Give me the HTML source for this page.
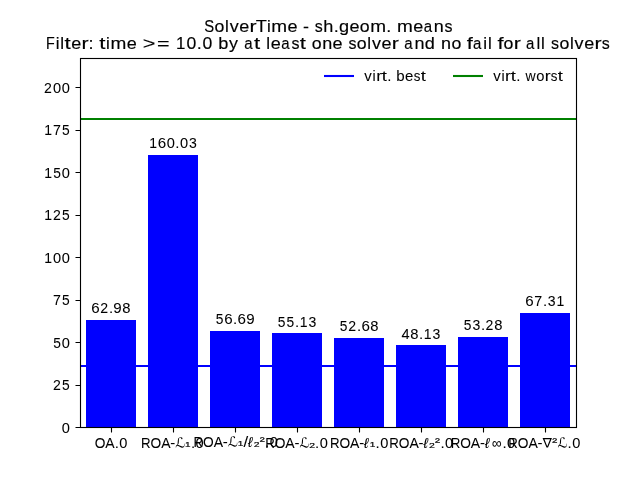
<!DOCTYPE html>
<html><head><meta charset="utf-8"><title>SolverTime - sh.geom. means</title>
<style>
html,body{margin:0;padding:0;background:#fff;}
svg{display:block;font-family:"Liberation Sans",sans-serif;will-change:transform;}
text{fill:#000;font-kerning:none;white-space:pre;}
</style></head>
<body>
<svg width="640" height="480" viewBox="0 0 640 480">
<rect width="640" height="480" fill="#fff"/>
<rect x="86" y="320" width="50" height="108" fill="#0000ff"/>
<rect x="148" y="155" width="50" height="273" fill="#0000ff"/>
<rect x="210" y="331" width="50" height="97" fill="#0000ff"/>
<rect x="272" y="333" width="50" height="95" fill="#0000ff"/>
<rect x="334" y="338" width="50" height="90" fill="#0000ff"/>
<rect x="396" y="345" width="50" height="83" fill="#0000ff"/>
<rect x="458" y="337" width="50" height="91" fill="#0000ff"/>
<rect x="520" y="313" width="50" height="115" fill="#0000ff"/>
<line x1="80" x2="577" y1="366" y2="366" stroke="#0000ff" stroke-width="2.08"/>
<line x1="80" x2="577" y1="119" y2="119" stroke="#008000" stroke-width="2.08"/>
<rect x="80.5" y="58.5" width="496" height="369" fill="none" stroke="#000" stroke-width="1.11"/>
<path d="M80.5 427.5h-5 M80.5 385.5h-5 M80.5 342.5h-5 M80.5 300.5h-5 M80.5 257.5h-5 M80.5 215.5h-5 M80.5 172.5h-5 M80.5 130.5h-5 M80.5 87.5h-5 M111.5 427.5v5 M173.5 427.5v5 M235.5 427.5v5 M297.5 427.5v5 M359.5 427.5v5 M421.5 427.5v5 M483.5 427.5v5 M545.5 427.5v5" stroke="#000" stroke-width="1.11" fill="none"/>
<line x1="325.04" x2="352.96" y1="76" y2="76" stroke="#0000ff" stroke-width="2.08" stroke-linecap="square"/>
<line x1="454.04" x2="481.96" y1="76" y2="76" stroke="#008000" stroke-width="2.08" stroke-linecap="square"/>
<g>
<text font-size="14.5" stroke="#000" stroke-width="0.05"><tspan x="61.79" y="433.00" textLength="8.14" lengthAdjust="spacingAndGlyphs">0</tspan></text>
<text font-size="14.5" stroke="#000" stroke-width="0.05"><tspan x="52.91" y="390.00" textLength="7.85" lengthAdjust="spacingAndGlyphs">2</tspan><tspan x="61.96" y="390.00" textLength="7.68" lengthAdjust="spacingAndGlyphs">5</tspan></text>
<text font-size="14.5" stroke="#000" stroke-width="0.05"><tspan x="53.13" y="348.00" textLength="7.68" lengthAdjust="spacingAndGlyphs">5</tspan><tspan x="61.79" y="348.00" textLength="8.14" lengthAdjust="spacingAndGlyphs">0</tspan></text>
<text font-size="14.5" stroke="#000" stroke-width="0.05"><tspan x="53.01" y="305.00" textLength="7.96" lengthAdjust="spacingAndGlyphs">7</tspan><tspan x="61.96" y="305.00" textLength="7.68" lengthAdjust="spacingAndGlyphs">5</tspan></text>
<text font-size="14.5" stroke="#000" stroke-width="0.05"><tspan x="44.23" y="263.00" textLength="7.78" lengthAdjust="spacingAndGlyphs">1</tspan><tspan x="52.95" y="263.00" textLength="8.14" lengthAdjust="spacingAndGlyphs">0</tspan><tspan x="61.79" y="263.00" textLength="8.14" lengthAdjust="spacingAndGlyphs">0</tspan></text>
<text font-size="14.5" stroke="#000" stroke-width="0.05"><tspan x="44.23" y="220.00" textLength="7.78" lengthAdjust="spacingAndGlyphs">1</tspan><tspan x="52.91" y="220.00" textLength="7.85" lengthAdjust="spacingAndGlyphs">2</tspan><tspan x="61.96" y="220.00" textLength="7.68" lengthAdjust="spacingAndGlyphs">5</tspan></text>
<text font-size="14.5" stroke="#000" stroke-width="0.05"><tspan x="44.23" y="178.00" textLength="7.78" lengthAdjust="spacingAndGlyphs">1</tspan><tspan x="53.13" y="178.00" textLength="7.68" lengthAdjust="spacingAndGlyphs">5</tspan><tspan x="61.79" y="178.00" textLength="8.14" lengthAdjust="spacingAndGlyphs">0</tspan></text>
<text font-size="14.5" stroke="#000" stroke-width="0.05"><tspan x="44.23" y="135.00" textLength="7.78" lengthAdjust="spacingAndGlyphs">1</tspan><tspan x="53.01" y="135.00" textLength="7.96" lengthAdjust="spacingAndGlyphs">7</tspan><tspan x="61.96" y="135.00" textLength="7.68" lengthAdjust="spacingAndGlyphs">5</tspan></text>
<text font-size="14.5" stroke="#000" stroke-width="0.05"><tspan x="44.08" y="93.00" textLength="7.85" lengthAdjust="spacingAndGlyphs">2</tspan><tspan x="52.95" y="93.00" textLength="8.14" lengthAdjust="spacingAndGlyphs">0</tspan><tspan x="61.79" y="93.00" textLength="8.14" lengthAdjust="spacingAndGlyphs">0</tspan></text>
<text font-size="14.5" stroke="#000" stroke-width="0.05"><tspan x="91.32" y="313.00" textLength="8.43" lengthAdjust="spacingAndGlyphs">6</tspan><tspan x="100.26" y="313.00" textLength="7.85" lengthAdjust="spacingAndGlyphs">2</tspan><tspan x="108.91" y="313.00" textLength="4.18" lengthAdjust="spacingAndGlyphs">.</tspan><tspan x="113.37" y="313.00" textLength="8.41" lengthAdjust="spacingAndGlyphs">9</tspan><tspan x="122.34" y="313.00" textLength="8.23" lengthAdjust="spacingAndGlyphs">8</tspan></text>
<text font-size="14.5" stroke="#000" stroke-width="0.05"><tspan x="149.16" y="148.00" textLength="7.78" lengthAdjust="spacingAndGlyphs">1</tspan><tspan x="157.74" y="148.00" textLength="8.43" lengthAdjust="spacingAndGlyphs">6</tspan><tspan x="166.72" y="148.00" textLength="8.14" lengthAdjust="spacingAndGlyphs">0</tspan><tspan x="175.32" y="148.00" textLength="4.18" lengthAdjust="spacingAndGlyphs">.</tspan><tspan x="179.97" y="148.00" textLength="8.14" lengthAdjust="spacingAndGlyphs">0</tspan><tspan x="188.98" y="148.00" textLength="7.82" lengthAdjust="spacingAndGlyphs">3</tspan></text>
<text font-size="14.5" stroke="#000" stroke-width="0.05"><tspan x="215.64" y="324.00" textLength="7.68" lengthAdjust="spacingAndGlyphs">5</tspan><tspan x="224.16" y="324.00" textLength="8.43" lengthAdjust="spacingAndGlyphs">6</tspan><tspan x="232.91" y="324.00" textLength="4.18" lengthAdjust="spacingAndGlyphs">.</tspan><tspan x="237.41" y="324.00" textLength="8.43" lengthAdjust="spacingAndGlyphs">6</tspan><tspan x="246.21" y="324.00" textLength="8.41" lengthAdjust="spacingAndGlyphs">9</tspan></text>
<text font-size="14.5" stroke="#000" stroke-width="0.05"><tspan x="277.64" y="327.00" textLength="7.68" lengthAdjust="spacingAndGlyphs">5</tspan><tspan x="286.47" y="327.00" textLength="7.68" lengthAdjust="spacingAndGlyphs">5</tspan><tspan x="294.91" y="327.00" textLength="4.18" lengthAdjust="spacingAndGlyphs">.</tspan><tspan x="299.67" y="327.00" textLength="7.78" lengthAdjust="spacingAndGlyphs">1</tspan><tspan x="308.57" y="327.00" textLength="7.82" lengthAdjust="spacingAndGlyphs">3</tspan></text>
<text font-size="14.5" stroke="#000" stroke-width="0.05"><tspan x="339.64" y="331.00" textLength="7.68" lengthAdjust="spacingAndGlyphs">5</tspan><tspan x="348.26" y="331.00" textLength="7.85" lengthAdjust="spacingAndGlyphs">2</tspan><tspan x="356.91" y="331.00" textLength="4.18" lengthAdjust="spacingAndGlyphs">.</tspan><tspan x="361.41" y="331.00" textLength="8.43" lengthAdjust="spacingAndGlyphs">6</tspan><tspan x="370.34" y="331.00" textLength="8.23" lengthAdjust="spacingAndGlyphs">8</tspan></text>
<text font-size="14.5" stroke="#000" stroke-width="0.05"><tspan x="401.46" y="339.00" textLength="8.14" lengthAdjust="spacingAndGlyphs">4</tspan><tspan x="410.26" y="339.00" textLength="8.23" lengthAdjust="spacingAndGlyphs">8</tspan><tspan x="418.91" y="339.00" textLength="4.18" lengthAdjust="spacingAndGlyphs">.</tspan><tspan x="423.67" y="339.00" textLength="7.78" lengthAdjust="spacingAndGlyphs">1</tspan><tspan x="432.57" y="339.00" textLength="7.82" lengthAdjust="spacingAndGlyphs">3</tspan></text>
<text font-size="14.5" stroke="#000" stroke-width="0.05"><tspan x="463.64" y="330.00" textLength="7.68" lengthAdjust="spacingAndGlyphs">5</tspan><tspan x="472.48" y="330.00" textLength="7.82" lengthAdjust="spacingAndGlyphs">3</tspan><tspan x="480.91" y="330.00" textLength="4.18" lengthAdjust="spacingAndGlyphs">.</tspan><tspan x="485.51" y="330.00" textLength="7.85" lengthAdjust="spacingAndGlyphs">2</tspan><tspan x="494.34" y="330.00" textLength="8.23" lengthAdjust="spacingAndGlyphs">8</tspan></text>
<text font-size="14.5" stroke="#000" stroke-width="0.05"><tspan x="525.32" y="306.00" textLength="8.43" lengthAdjust="spacingAndGlyphs">6</tspan><tspan x="534.36" y="306.00" textLength="7.96" lengthAdjust="spacingAndGlyphs">7</tspan><tspan x="542.91" y="306.00" textLength="4.18" lengthAdjust="spacingAndGlyphs">.</tspan><tspan x="547.73" y="306.00" textLength="7.82" lengthAdjust="spacingAndGlyphs">3</tspan><tspan x="556.50" y="306.00" textLength="7.78" lengthAdjust="spacingAndGlyphs">1</tspan></text>
<text font-size="14.5" stroke="#000" stroke-width="0.05"><tspan x="94.73" y="447.50" textLength="10.68" lengthAdjust="spacingAndGlyphs">O</tspan><tspan x="105.37" y="447.50" textLength="9.33" lengthAdjust="spacingAndGlyphs">A</tspan><tspan x="114.66" y="447.50" textLength="4.18" lengthAdjust="spacingAndGlyphs">.</tspan><tspan x="119.31" y="447.50" textLength="8.14" lengthAdjust="spacingAndGlyphs">0</tspan></text>
<text font-size="14.5" stroke="#000" stroke-width="0.05"><tspan x="140.99" y="447.50" textLength="9.59" lengthAdjust="spacingAndGlyphs">R</tspan><tspan x="150.50" y="447.50" textLength="10.68" lengthAdjust="spacingAndGlyphs">O</tspan><tspan x="161.14" y="447.50" textLength="9.33" lengthAdjust="spacingAndGlyphs">A</tspan><tspan x="170.26" y="447.50" textLength="4.99" lengthAdjust="spacingAndGlyphs">-</tspan><tspan font-size="11.85" stroke-width="0.22" x="185.36" y="446.49" textLength="5.18" lengthAdjust="spacingAndGlyphs">₁</tspan><tspan x="190.95" y="447.50" textLength="4.18" lengthAdjust="spacingAndGlyphs">.</tspan><tspan x="195.59" y="447.50" textLength="8.14" lengthAdjust="spacingAndGlyphs">0</tspan></text><path transform="translate(175.26 447.50) scale(0.00678 -0.00678)" d="M475 351 733 241Q843 193 933 169Q1016 144 1076 144Q1179 144 1265 230Q1331 296 1331 450Q1331 532 1322 562L1366 576Q1390 444 1390 430Q1390 202 1280 92Q1159 -29 1038 -29Q986 -29 884 6Q796 37 653 109Q392 246 310 246V254Q242 254 187 188Q134 125 121 -7L68 17Q68 210 141 298Q167 331 216 367Q253 391 301 448Q356 514 367 897Q372 1066 407 1198Q440 1326 504 1403Q603 1522 812 1522Q926 1522 997 1460Q1063 1405 1063 1297Q1063 1271 1049 1255Q1008 1209 977 1209Q933 1209 904 1236Q891 1247 880 1306Q873 1361 832 1398Q781 1442 724 1442Q649 1442 603 1383Q568 1343 550.0 1237.5Q532 1132 528 965Q524 776 504 659Q482 538 444 494Q389 426 323 378L326 375H341Q403 375 475 351Z"/>
<text font-size="14.5" stroke="#000" stroke-width="0.05"><tspan x="193.61" y="446.50" textLength="9.59" lengthAdjust="spacingAndGlyphs">R</tspan><tspan x="203.12" y="446.50" textLength="10.68" lengthAdjust="spacingAndGlyphs">O</tspan><tspan x="213.76" y="446.50" textLength="9.33" lengthAdjust="spacingAndGlyphs">A</tspan><tspan x="222.89" y="446.50" textLength="4.99" lengthAdjust="spacingAndGlyphs">-</tspan><tspan font-size="11.85" stroke-width="0.22" x="237.99" y="445.49" textLength="5.18" lengthAdjust="spacingAndGlyphs">₁</tspan><tspan x="243.46" y="446.50" textLength="4.68" lengthAdjust="spacingAndGlyphs">/</tspan><tspan font-style="italic" stroke-width="0.12" x="248.03" y="446.50" textLength="4.50" lengthAdjust="spacingAndGlyphs">ℓ</tspan><tspan font-size="11.19" stroke-width="0.22" x="253.50" y="445.54" textLength="6.32" lengthAdjust="spacingAndGlyphs">₂</tspan><tspan font-size="11.22" stroke-width="0.22" x="259.73" y="444.78" textLength="4.98" lengthAdjust="spacingAndGlyphs">²</tspan><tspan x="265.12" y="446.50" textLength="4.18" lengthAdjust="spacingAndGlyphs">.</tspan><tspan x="269.77" y="446.50" textLength="8.14" lengthAdjust="spacingAndGlyphs">0</tspan></text><path transform="translate(227.89 446.50) scale(0.00678 -0.00678)" d="M475 351 733 241Q843 193 933 169Q1016 144 1076 144Q1179 144 1265 230Q1331 296 1331 450Q1331 532 1322 562L1366 576Q1390 444 1390 430Q1390 202 1280 92Q1159 -29 1038 -29Q986 -29 884 6Q796 37 653 109Q392 246 310 246V254Q242 254 187 188Q134 125 121 -7L68 17Q68 210 141 298Q167 331 216 367Q253 391 301 448Q356 514 367 897Q372 1066 407 1198Q440 1326 504 1403Q603 1522 812 1522Q926 1522 997 1460Q1063 1405 1063 1297Q1063 1271 1049 1255Q1008 1209 977 1209Q933 1209 904 1236Q891 1247 880 1306Q873 1361 832 1398Q781 1442 724 1442Q649 1442 603 1383Q568 1343 550.0 1237.5Q532 1132 528 965Q524 776 504 659Q482 538 444 494Q389 426 323 378L326 375H341Q403 375 475 351Z"/>
<text font-size="14.5" stroke="#000" stroke-width="0.05"><tspan x="265.14" y="447.50" textLength="9.59" lengthAdjust="spacingAndGlyphs">R</tspan><tspan x="274.65" y="447.50" textLength="10.68" lengthAdjust="spacingAndGlyphs">O</tspan><tspan x="285.29" y="447.50" textLength="9.33" lengthAdjust="spacingAndGlyphs">A</tspan><tspan x="294.41" y="447.50" textLength="4.99" lengthAdjust="spacingAndGlyphs">-</tspan><tspan font-size="11.19" stroke-width="0.22" x="309.04" y="446.54" textLength="6.32" lengthAdjust="spacingAndGlyphs">₂</tspan><tspan x="315.10" y="447.50" textLength="4.18" lengthAdjust="spacingAndGlyphs">.</tspan><tspan x="319.74" y="447.50" textLength="8.14" lengthAdjust="spacingAndGlyphs">0</tspan></text><path transform="translate(299.41 447.50) scale(0.00678 -0.00678)" d="M475 351 733 241Q843 193 933 169Q1016 144 1076 144Q1179 144 1265 230Q1331 296 1331 450Q1331 532 1322 562L1366 576Q1390 444 1390 430Q1390 202 1280 92Q1159 -29 1038 -29Q986 -29 884 6Q796 37 653 109Q392 246 310 246V254Q242 254 187 188Q134 125 121 -7L68 17Q68 210 141 298Q167 331 216 367Q253 391 301 448Q356 514 367 897Q372 1066 407 1198Q440 1326 504 1403Q603 1522 812 1522Q926 1522 997 1460Q1063 1405 1063 1297Q1063 1271 1049 1255Q1008 1209 977 1209Q933 1209 904 1236Q891 1247 880 1306Q873 1361 832 1398Q781 1442 724 1442Q649 1442 603 1383Q568 1343 550.0 1237.5Q532 1132 528 965Q524 776 504 659Q482 538 444 494Q389 426 323 378L326 375H341Q403 375 475 351Z"/>
<text font-size="14.5" stroke="#000" stroke-width="0.05"><tspan x="329.92" y="447.50" textLength="9.59" lengthAdjust="spacingAndGlyphs">R</tspan><tspan x="339.43" y="447.50" textLength="10.68" lengthAdjust="spacingAndGlyphs">O</tspan><tspan x="350.07" y="447.50" textLength="9.33" lengthAdjust="spacingAndGlyphs">A</tspan><tspan x="359.20" y="447.50" textLength="4.99" lengthAdjust="spacingAndGlyphs">-</tspan><tspan font-style="italic" stroke-width="0.12" x="364.09" y="447.50" textLength="4.50" lengthAdjust="spacingAndGlyphs">ℓ</tspan><tspan font-size="11.85" stroke-width="0.22" x="370.03" y="446.49" textLength="5.18" lengthAdjust="spacingAndGlyphs">₁</tspan><tspan x="375.61" y="447.50" textLength="4.18" lengthAdjust="spacingAndGlyphs">.</tspan><tspan x="380.26" y="447.50" textLength="8.14" lengthAdjust="spacingAndGlyphs">0</tspan></text>
<text font-size="14.5" stroke="#000" stroke-width="0.05"><tspan x="389.24" y="447.50" textLength="9.59" lengthAdjust="spacingAndGlyphs">R</tspan><tspan x="398.74" y="447.50" textLength="10.68" lengthAdjust="spacingAndGlyphs">O</tspan><tspan x="409.38" y="447.50" textLength="9.33" lengthAdjust="spacingAndGlyphs">A</tspan><tspan x="418.51" y="447.50" textLength="4.99" lengthAdjust="spacingAndGlyphs">-</tspan><tspan font-style="italic" stroke-width="0.12" x="423.41" y="447.50" textLength="4.50" lengthAdjust="spacingAndGlyphs">ℓ</tspan><tspan font-size="11.19" stroke-width="0.22" x="428.87" y="446.54" textLength="6.32" lengthAdjust="spacingAndGlyphs">₂</tspan><tspan font-size="11.22" stroke-width="0.22" x="435.10" y="445.78" textLength="4.98" lengthAdjust="spacingAndGlyphs">²</tspan><tspan x="440.50" y="447.50" textLength="4.18" lengthAdjust="spacingAndGlyphs">.</tspan><tspan x="445.14" y="447.50" textLength="8.14" lengthAdjust="spacingAndGlyphs">0</tspan></text>
<text font-size="14.5" stroke="#000" stroke-width="0.05"><tspan x="450.72" y="447.50" textLength="9.59" lengthAdjust="spacingAndGlyphs">R</tspan><tspan x="460.23" y="447.50" textLength="10.68" lengthAdjust="spacingAndGlyphs">O</tspan><tspan x="470.87" y="447.50" textLength="9.33" lengthAdjust="spacingAndGlyphs">A</tspan><tspan x="480.00" y="447.50" textLength="4.99" lengthAdjust="spacingAndGlyphs">-</tspan><tspan font-style="italic" stroke-width="0.12" x="484.89" y="447.50" textLength="4.50" lengthAdjust="spacingAndGlyphs">ℓ</tspan><tspan x="491.64" y="447.50" textLength="9.75" lengthAdjust="spacingAndGlyphs">∞</tspan><tspan x="502.41" y="447.50" textLength="4.18" lengthAdjust="spacingAndGlyphs">.</tspan><tspan x="507.06" y="447.50" textLength="8.14" lengthAdjust="spacingAndGlyphs">0</tspan></text>
<text font-size="14.5" stroke="#000" stroke-width="0.05"><tspan x="508.34" y="447.50" textLength="9.59" lengthAdjust="spacingAndGlyphs">R</tspan><tspan x="517.85" y="447.50" textLength="10.68" lengthAdjust="spacingAndGlyphs">O</tspan><tspan x="528.49" y="447.50" textLength="9.33" lengthAdjust="spacingAndGlyphs">A</tspan><tspan x="537.62" y="447.50" textLength="4.99" lengthAdjust="spacingAndGlyphs">-</tspan><tspan font-size="11.22" stroke-width="0.22" x="552.19" y="445.78" textLength="4.98" lengthAdjust="spacingAndGlyphs">²</tspan><tspan x="567.59" y="447.50" textLength="4.18" lengthAdjust="spacingAndGlyphs">.</tspan><tspan x="572.24" y="447.50" textLength="8.14" lengthAdjust="spacingAndGlyphs">0</tspan></text><path transform="translate(542.62 447.50) scale(0.00678 -0.00644)" d="M684 211 1102 1295H266ZM573 0 -6 1473H1376L797 0Z"/><path transform="translate(557.48 447.50) scale(0.00678 -0.00678)" d="M475 351 733 241Q843 193 933 169Q1016 144 1076 144Q1179 144 1265 230Q1331 296 1331 450Q1331 532 1322 562L1366 576Q1390 444 1390 430Q1390 202 1280 92Q1159 -29 1038 -29Q986 -29 884 6Q796 37 653 109Q392 246 310 246V254Q242 254 187 188Q134 125 121 -7L68 17Q68 210 141 298Q167 331 216 367Q253 391 301 448Q356 514 367 897Q372 1066 407 1198Q440 1326 504 1403Q603 1522 812 1522Q926 1522 997 1460Q1063 1405 1063 1297Q1063 1271 1049 1255Q1008 1209 977 1209Q933 1209 904 1236Q891 1247 880 1306Q873 1361 832 1398Q781 1442 724 1442Q649 1442 603 1383Q568 1343 550.0 1237.5Q532 1132 528 965Q524 776 504 659Q482 538 444 494Q389 426 323 378L326 375H341Q403 375 475 351Z"/>
<text font-size="14.5" stroke="#000" stroke-width="0.05"><tspan x="364.36" y="80.90" textLength="7.49" lengthAdjust="spacingAndGlyphs">v</tspan><tspan x="372.58" y="80.90" textLength="3.15" lengthAdjust="spacingAndGlyphs">i</tspan><tspan x="376.16" y="80.90" textLength="5.93" lengthAdjust="spacingAndGlyphs">r</tspan><tspan x="381.88" y="80.90" textLength="5.16" lengthAdjust="spacingAndGlyphs">t</tspan><tspan x="387.35" y="80.90" textLength="4.18" lengthAdjust="spacingAndGlyphs">.</tspan> <tspan x="396.35" y="80.90" textLength="8.40" lengthAdjust="spacingAndGlyphs">b</tspan><tspan x="405.01" y="80.90" textLength="8.34" lengthAdjust="spacingAndGlyphs">e</tspan><tspan x="413.81" y="80.90" textLength="6.66" lengthAdjust="spacingAndGlyphs">s</tspan><tspan x="420.75" y="80.90" textLength="5.16" lengthAdjust="spacingAndGlyphs">t</tspan></text>
<text font-size="14.5" stroke="#000" stroke-width="0.05"><tspan x="493.16" y="80.90" textLength="7.49" lengthAdjust="spacingAndGlyphs">v</tspan><tspan x="501.38" y="80.90" textLength="3.15" lengthAdjust="spacingAndGlyphs">i</tspan><tspan x="504.96" y="80.90" textLength="5.93" lengthAdjust="spacingAndGlyphs">r</tspan><tspan x="510.68" y="80.90" textLength="5.16" lengthAdjust="spacingAndGlyphs">t</tspan><tspan x="516.15" y="80.90" textLength="4.18" lengthAdjust="spacingAndGlyphs">.</tspan> <tspan x="525.47" y="80.90" textLength="10.14" lengthAdjust="spacingAndGlyphs">w</tspan><tspan x="536.37" y="80.90" textLength="8.21" lengthAdjust="spacingAndGlyphs">o</tspan><tspan x="544.80" y="80.90" textLength="5.93" lengthAdjust="spacingAndGlyphs">r</tspan><tspan x="550.81" y="80.90" textLength="6.66" lengthAdjust="spacingAndGlyphs">s</tspan><tspan x="557.76" y="80.90" textLength="5.16" lengthAdjust="spacingAndGlyphs">t</tspan></text>
<text font-size="17.4" stroke="#000" stroke-width="0.15"><tspan x="204.22" y="32.00" textLength="9.92" lengthAdjust="spacingAndGlyphs">S</tspan><tspan x="214.57" y="32.00" textLength="9.87" lengthAdjust="spacingAndGlyphs">o</tspan><tspan x="225.03" y="32.00" textLength="3.79" lengthAdjust="spacingAndGlyphs">l</tspan><tspan x="229.68" y="32.00" textLength="9.01" lengthAdjust="spacingAndGlyphs">v</tspan><tspan x="239.28" y="32.00" textLength="10.03" lengthAdjust="spacingAndGlyphs">e</tspan><tspan x="249.49" y="32.00" textLength="7.12" lengthAdjust="spacingAndGlyphs">r</tspan><tspan x="255.80" y="32.00" textLength="11.12" lengthAdjust="spacingAndGlyphs">T</tspan><tspan x="266.88" y="32.00" textLength="3.79" lengthAdjust="spacingAndGlyphs">i</tspan><tspan x="271.34" y="32.00" textLength="15.84" lengthAdjust="spacingAndGlyphs">m</tspan><tspan x="287.50" y="32.00" textLength="10.03" lengthAdjust="spacingAndGlyphs">e</tspan> <tspan x="302.94" y="32.00" textLength="5.99" lengthAdjust="spacingAndGlyphs">-</tspan> <tspan x="314.71" y="32.00" textLength="8.00" lengthAdjust="spacingAndGlyphs">s</tspan><tspan x="323.21" y="32.00" textLength="10.08" lengthAdjust="spacingAndGlyphs">h</tspan><tspan x="333.66" y="32.00" textLength="5.02" lengthAdjust="spacingAndGlyphs">.</tspan><tspan x="338.99" y="32.00" textLength="10.09" lengthAdjust="spacingAndGlyphs">g</tspan><tspan x="349.58" y="32.00" textLength="10.03" lengthAdjust="spacingAndGlyphs">e</tspan><tspan x="359.87" y="32.00" textLength="9.87" lengthAdjust="spacingAndGlyphs">o</tspan><tspan x="370.16" y="32.00" textLength="15.84" lengthAdjust="spacingAndGlyphs">m</tspan><tspan x="386.31" y="32.00" textLength="5.02" lengthAdjust="spacingAndGlyphs">.</tspan> <tspan x="397.03" y="32.00" textLength="15.84" lengthAdjust="spacingAndGlyphs">m</tspan><tspan x="413.20" y="32.00" textLength="10.03" lengthAdjust="spacingAndGlyphs">e</tspan><tspan x="423.68" y="32.00" textLength="8.35" lengthAdjust="spacingAndGlyphs">a</tspan><tspan x="433.86" y="32.00" textLength="10.01" lengthAdjust="spacingAndGlyphs">n</tspan><tspan x="444.58" y="32.00" textLength="8.00" lengthAdjust="spacingAndGlyphs">s</tspan></text>
<text font-size="17.4" stroke="#000" stroke-width="0.15"><tspan x="46.08" y="48.60" textLength="8.75" lengthAdjust="spacingAndGlyphs">F</tspan><tspan x="55.65" y="48.60" textLength="3.79" lengthAdjust="spacingAndGlyphs">i</tspan><tspan x="60.28" y="48.60" textLength="3.79" lengthAdjust="spacingAndGlyphs">l</tspan><tspan x="64.61" y="48.60" textLength="6.20" lengthAdjust="spacingAndGlyphs">t</tspan><tspan x="71.21" y="48.60" textLength="10.03" lengthAdjust="spacingAndGlyphs">e</tspan><tspan x="81.42" y="48.60" textLength="7.13" lengthAdjust="spacingAndGlyphs">r</tspan><tspan x="88.50" y="48.60" textLength="5.02" lengthAdjust="spacingAndGlyphs">:</tspan> <tspan x="99.24" y="48.60" textLength="6.20" lengthAdjust="spacingAndGlyphs">t</tspan><tspan x="106.12" y="48.60" textLength="3.79" lengthAdjust="spacingAndGlyphs">i</tspan><tspan x="110.58" y="48.60" textLength="15.85" lengthAdjust="spacingAndGlyphs">m</tspan><tspan x="126.75" y="48.60" textLength="10.03" lengthAdjust="spacingAndGlyphs">e</tspan> <tspan x="142.89" y="48.60" textLength="12.57" lengthAdjust="spacingAndGlyphs">&gt;</tspan><tspan x="156.90" y="48.60" textLength="12.57" lengthAdjust="spacingAndGlyphs">=</tspan> <tspan x="176.04" y="48.60" textLength="9.35" lengthAdjust="spacingAndGlyphs">1</tspan><tspan x="186.53" y="48.60" textLength="9.79" lengthAdjust="spacingAndGlyphs">0</tspan><tspan x="196.88" y="48.60" textLength="5.02" lengthAdjust="spacingAndGlyphs">.</tspan><tspan x="202.47" y="48.60" textLength="9.79" lengthAdjust="spacingAndGlyphs">0</tspan> <tspan x="218.34" y="48.60" textLength="10.11" lengthAdjust="spacingAndGlyphs">b</tspan><tspan x="229.05" y="48.60" textLength="8.97" lengthAdjust="spacingAndGlyphs">y</tspan> <tspan x="244.16" y="48.60" textLength="8.35" lengthAdjust="spacingAndGlyphs">a</tspan><tspan x="254.14" y="48.60" textLength="6.20" lengthAdjust="spacingAndGlyphs">t</tspan> <tspan x="266.31" y="48.60" textLength="3.79" lengthAdjust="spacingAndGlyphs">l</tspan><tspan x="270.68" y="48.60" textLength="10.03" lengthAdjust="spacingAndGlyphs">e</tspan><tspan x="281.17" y="48.60" textLength="8.35" lengthAdjust="spacingAndGlyphs">a</tspan><tspan x="291.50" y="48.60" textLength="8.01" lengthAdjust="spacingAndGlyphs">s</tspan><tspan x="299.86" y="48.60" textLength="6.20" lengthAdjust="spacingAndGlyphs">t</tspan> <tspan x="311.78" y="48.60" textLength="9.88" lengthAdjust="spacingAndGlyphs">o</tspan><tspan x="322.15" y="48.60" textLength="10.02" lengthAdjust="spacingAndGlyphs">n</tspan><tspan x="332.57" y="48.60" textLength="10.03" lengthAdjust="spacingAndGlyphs">e</tspan> <tspan x="348.46" y="48.60" textLength="8.01" lengthAdjust="spacingAndGlyphs">s</tspan><tspan x="356.88" y="48.60" textLength="9.88" lengthAdjust="spacingAndGlyphs">o</tspan><tspan x="367.35" y="48.60" textLength="3.79" lengthAdjust="spacingAndGlyphs">l</tspan><tspan x="372.00" y="48.60" textLength="9.01" lengthAdjust="spacingAndGlyphs">v</tspan><tspan x="381.61" y="48.60" textLength="10.03" lengthAdjust="spacingAndGlyphs">e</tspan><tspan x="391.82" y="48.60" textLength="7.13" lengthAdjust="spacingAndGlyphs">r</tspan> <tspan x="404.27" y="48.60" textLength="8.35" lengthAdjust="spacingAndGlyphs">a</tspan><tspan x="414.46" y="48.60" textLength="10.02" lengthAdjust="spacingAndGlyphs">n</tspan><tspan x="424.89" y="48.60" textLength="10.10" lengthAdjust="spacingAndGlyphs">d</tspan> <tspan x="440.96" y="48.60" textLength="10.02" lengthAdjust="spacingAndGlyphs">n</tspan><tspan x="451.41" y="48.60" textLength="9.88" lengthAdjust="spacingAndGlyphs">o</tspan> <tspan x="466.83" y="48.60" textLength="6.09" lengthAdjust="spacingAndGlyphs">f</tspan><tspan x="473.01" y="48.60" textLength="8.35" lengthAdjust="spacingAndGlyphs">a</tspan><tspan x="483.31" y="48.60" textLength="3.79" lengthAdjust="spacingAndGlyphs">i</tspan><tspan x="487.94" y="48.60" textLength="3.79" lengthAdjust="spacingAndGlyphs">l</tspan> <tspan x="497.54" y="48.60" textLength="6.09" lengthAdjust="spacingAndGlyphs">f</tspan><tspan x="503.53" y="48.60" textLength="9.88" lengthAdjust="spacingAndGlyphs">o</tspan><tspan x="513.67" y="48.60" textLength="7.13" lengthAdjust="spacingAndGlyphs">r</tspan> <tspan x="526.11" y="48.60" textLength="8.35" lengthAdjust="spacingAndGlyphs">a</tspan><tspan x="536.41" y="48.60" textLength="3.79" lengthAdjust="spacingAndGlyphs">l</tspan><tspan x="541.05" y="48.60" textLength="3.79" lengthAdjust="spacingAndGlyphs">l</tspan> <tspan x="551.04" y="48.60" textLength="8.01" lengthAdjust="spacingAndGlyphs">s</tspan><tspan x="559.46" y="48.60" textLength="9.88" lengthAdjust="spacingAndGlyphs">o</tspan><tspan x="569.92" y="48.60" textLength="3.79" lengthAdjust="spacingAndGlyphs">l</tspan><tspan x="574.58" y="48.60" textLength="9.01" lengthAdjust="spacingAndGlyphs">v</tspan><tspan x="584.18" y="48.60" textLength="10.03" lengthAdjust="spacingAndGlyphs">e</tspan><tspan x="594.40" y="48.60" textLength="7.13" lengthAdjust="spacingAndGlyphs">r</tspan><tspan x="601.63" y="48.60" textLength="8.01" lengthAdjust="spacingAndGlyphs">s</tspan></text>
</g>
</svg>
</body></html>
